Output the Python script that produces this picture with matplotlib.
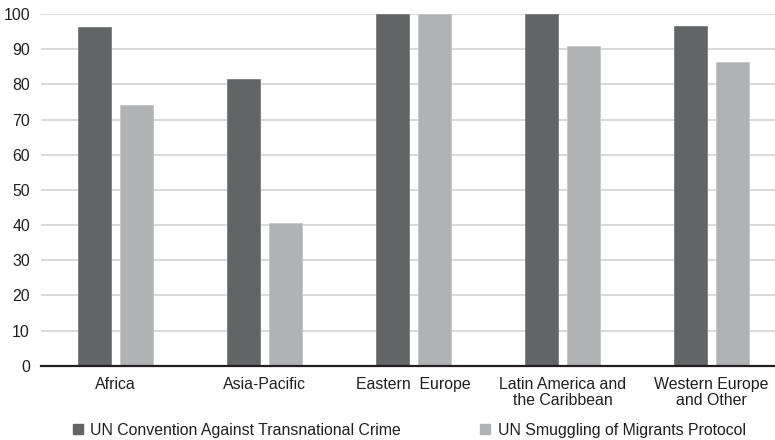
import matplotlib
matplotlib.use("Agg")
import matplotlib.pyplot as plt
import numpy as np
from matplotlib.patches import Patch

plt.rcParams['font.family'] = ['Liberation Sans', 'DejaVu Sans']

regions = ["Africa", "Asia-Pacific", "Eastern  Europe",
           "Latin America and\nthe Caribbean", "Western Europe\nand Other"]
convention = [96.4, 81.6, 100, 100, 96.6]
smuggling = [74.2, 40.7, 100, 91.0, 86.3]
series_names = ["UN Convention Against Transnational Crime",
                "UN Smuggling of Migrants Protocol"]
yticks = list(range(0, 101, 10))

dark = "#636466"
light = "#b1b2b4"
text_color = "#231f20"
fs = 11.4

W, H = 775, 440
fig = plt.figure(figsize=(W / 100, H / 100), dpi=100)
ax_left, ax_right = 41, 775
ax_top, ax_bottom = 14, 365.7
ax = fig.add_axes([ax_left / W, (H - ax_bottom) / H,
                   (ax_right - ax_left) / W, (ax_bottom - ax_top) / H])

x = np.arange(len(regions))
bw = 0.222
off = 0.143
ax.bar(x - off, convention, bw, color=dark, edgecolor="#7a7b7d", linewidth=0.6, zorder=3)
ax.bar(x + off, smuggling, bw, color=light, edgecolor="#c4c5c7", linewidth=0.6, zorder=3)

ax.set_ylim(0, 100)
step = 149.2
ax.set_xlim(-0.5, 4.5 - (786 - 775) / step)
ax.set_yticks(yticks)
ax.set_xticks(x)
ax.set_xticklabels(regions, fontsize=fs, color=text_color, linespacing=1.1)
ax.tick_params(axis='y', labelsize=fs, labelcolor=text_color, length=0, pad=8)
ax.tick_params(axis='x', length=0, pad=8)
ax.yaxis.grid(True, color="#d9d9d9", linewidth=1.4, zorder=0)
ax.set_axisbelow(True)
for s in ["top", "right", "left"]:
    ax.spines[s].set_visible(False)
ax.spines["bottom"].set_color("#231f20")
ax.spines["bottom"].set_linewidth(1.6)
ax.spines["bottom"].set_zorder(4)

handles = [Patch(facecolor=dark, edgecolor=dark), Patch(facecolor=light, edgecolor=light)]
fig.legend(handles, series_names, loc="center left",
           bbox_to_anchor=(73 / W, 1 - 430 / H), ncol=2, frameon=False,
           borderpad=0, borderaxespad=0,
           fontsize=fs, handlelength=0.6, handleheight=0.6,
           handletextpad=0.5, columnspacing=5.0, labelcolor=text_color)

fig.savefig("out.png", dpi=100)
